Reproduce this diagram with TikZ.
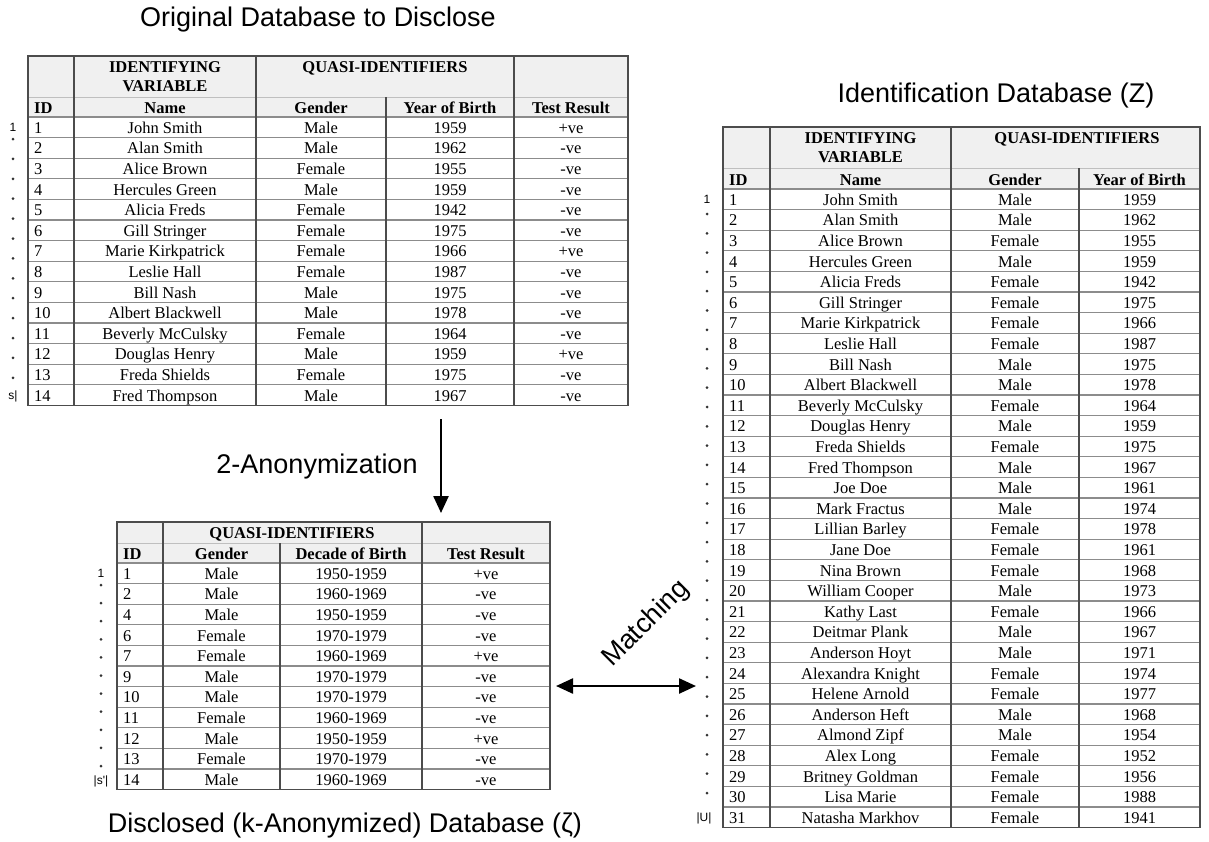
\documentclass[tikz,border=0pt]{standalone}
\usepackage{fontspec}
\setmainfont{Liberation Serif}
\newfontfamily\sansf{Liberation Sans}
\usetikzlibrary{arrows.meta}
\begin{document}
\begin{tikzpicture}[x=1pt,y=-1pt,
 txt/.style={inner sep=0pt, font=\fontsize{16.5}{16.5}\selectfont, anchor=base},
 hd/.style={inner sep=0pt, font=\fontsize{16.5}{16.5}\selectfont\bfseries, anchor=base},
 idt/.style={txt, anchor=base west},
 ttl/.style={inner sep=0pt, font=\sansf\fontsize{27}{27}\selectfont},
 rowline/.style={draw=black!45, line width=1.2pt},
 hline/.style={draw=black!25, line width=1pt},
 colline/.style={draw=black!70, line width=1.6pt},
 frame/.style={draw=black!70, line width=1.6pt},
 hdrfill/.style={fill=black!6},
 dotm/.style={fill=black!80},
 lbl/.style={inner sep=0pt, font=\sansf\fontsize{12}{12}\selectfont, anchor=base},
 arr/.style={line width=2.4pt, -{Triangle[length=17pt,width=15pt]}},
 darr/.style={line width=2.4pt, {Triangle[length=17pt,width=15pt]}-{Triangle[length=17pt,width=15pt]}},
]
\useasboundingbox (0,0) rectangle (1209,841);

% ---------------- Titles ----------------
\node[ttl] (title1) at (318,20) {Original Database to Disclose};
\node[ttl] (title2) at (996,96) {Identification Database (Z)};
\node[ttl] (title3) at (317,467) {2-Anonymization};
\node[ttl] (title4) at (345,826) {Disclosed (k-Anonymized) Database (ζ)};
\node[ttl, rotate=45] (title5) at (646,624) {Matching};

% ---------------- Table 1: Original ----------------
\fill[hdrfill] (28,56) rectangle (628,117);
\draw[hline] (28,97) -- (628,97);
\foreach \k in {0,...,13} \draw[rowline] (28,{117+20.6*\k}) -- (628,{117+20.6*\k});
\draw[colline] (74,56) -- (74,405.4);
\draw[colline] (256,56) -- (256,405.4);
\draw[colline] (386,97) -- (386,405.4);
\draw[colline] (514,56) -- (514,405.4);
\draw[frame] (28,56) rectangle (628,405.4);
\node[hd] (t1h1) at (165,72) {IDENTIFYING};
\node[hd] (t1h2) at (165,91) {VARIABLE};
\node[hd] (t1h3) at (385,72) {QUASI-IDENTIFIERS};
\node[hd, anchor=base west] (t1id) at (34,113) {ID};
\node[hd] (t1name) at (165,113) {Name};
\node[hd] (t1gen) at (321,113) {Gender};
\node[hd] (t1yob) at (450,113) {Year of Birth};
\node[hd] (t1tr) at (571,113) {Test Result};
\foreach \id/\nm/\g/\yr/\tr [count=\i from 0] in {
 1/John Smith/Male/1959/+ve,
 2/Alan Smith/Male/1962/-ve,
 3/Alice Brown/Female/1955/-ve,
 4/Hercules Green/Male/1959/-ve,
 5/Alicia Freds/Female/1942/-ve,
 6/Gill Stringer/Female/1975/-ve,
 7/Marie Kirkpatrick/Female/1966/+ve,
 8/Leslie Hall/Female/1987/-ve,
 9/Bill Nash/Male/1975/-ve,
 10/Albert Blackwell/Male/1978/-ve,
 11/Beverly McCulsky/Female/1964/-ve,
 12/Douglas Henry/Male/1959/+ve,
 13/Freda Shields/Female/1975/-ve,
 14/Fred Thompson/Male/1967/-ve}{
 \pgfmathsetmacro{\yb}{127.3+20.6*\i+6}
 \node[idt] (t1r\i id) at (34,\yb) {\id};
 \node[txt] (t1r\i n) at (165,\yb) {\nm};
 \node[txt] (t1r\i g) at (321,\yb) {\g};
 \node[txt] (t1r\i y) at (450,\yb) {\yr};
 \node[txt] (t1r\i t) at (571,\yb) {\tr};
}
\node[lbl] (t1first) at (13,131) {1};
\node[lbl] (t1last) at (13,399) {s|};
\foreach \k in {0,...,12} \fill[dotm] (13,{139+19.9*\k}) circle (1.5);

% ---------------- Table 2: Disclosed ----------------
\fill[hdrfill] (117,522) rectangle (550,563);
\draw[hline] (117,543) -- (550,543);
\foreach \k in {0,...,10} \draw[rowline] (117,{563+20.6*\k}) -- (550,{563+20.6*\k});
\draw[colline] (163,522) -- (163,789.6);
\draw[colline] (280,543) -- (280,789.6);
\draw[colline] (422,522) -- (422,789.6);
\draw[frame] (117,522) rectangle (550,789.6);
\node[hd] (t2h1) at (292,538) {QUASI-IDENTIFIERS};
\node[hd, anchor=base west] (t2id) at (123,559) {ID};
\node[hd] (t2gen) at (221.5,559) {Gender};
\node[hd] (t2dob) at (351,559) {Decade of Birth};
\node[hd] (t2tr) at (486,559) {Test Result};
\foreach \id/\g/\dc/\tr [count=\i from 0] in {
 1/Male/1950-1959/+ve,
 2/Male/1960-1969/-ve,
 4/Male/1950-1959/-ve,
 6/Female/1970-1979/-ve,
 7/Female/1960-1969/+ve,
 9/Male/1970-1979/-ve,
 10/Male/1970-1979/-ve,
 11/Female/1960-1969/-ve,
 12/Male/1950-1959/+ve,
 13/Female/1970-1979/-ve,
 14/Male/1960-1969/-ve}{
 \pgfmathsetmacro{\yb}{573.3+20.6*\i+6}
 \node[idt] (t2r\i id) at (123,\yb) {\id};
 \node[txt] (t2r\i g) at (221.5,\yb) {\g};
 \node[txt] (t2r\i d) at (351,\yb) {\dc};
 \node[txt] (t2r\i t) at (486,\yb) {\tr};
}
\node[lbl] (t2first) at (101,577) {1};
\node[lbl] (t2last) at (101,784) {|s'|};
\foreach \k in {0,...,10} \fill[dotm] (101,{585+18.1*\k}) circle (1.5);

% ---------------- Table 3: Identification ----------------
\fill[hdrfill] (723,127) rectangle (1200,189);
\draw[hline] (723,168) -- (1200,168);
\foreach \k in {0,...,30} \draw[rowline] (723,{189+20.6*\k}) -- (1200,{189+20.6*\k});
\draw[colline] (770,127) -- (770,827.6);
\draw[colline] (951,127) -- (951,827.6);
\draw[colline] (1079,168) -- (1079,827.6);
\draw[frame] (723,127) rectangle (1200,827.6);
\node[hd] (t3h1) at (860.5,143) {IDENTIFYING};
\node[hd] (t3h2) at (860.5,162) {VARIABLE};
\node[hd] (t3h3) at (1077,143) {QUASI-IDENTIFIERS};
\node[hd, anchor=base west] (t3id) at (729,185) {ID};
\node[hd] (t3name) at (860.5,185) {Name};
\node[hd] (t3gen) at (1015,185) {Gender};
\node[hd] (t3yob) at (1139.5,185) {Year of Birth};
\foreach \id/\nm/\g/\yr [count=\i from 0] in {
 1/John Smith/Male/1959,
 2/Alan Smith/Male/1962,
 3/Alice Brown/Female/1955,
 4/Hercules Green/Male/1959,
 5/Alicia Freds/Female/1942,
 6/Gill Stringer/Female/1975,
 7/Marie Kirkpatrick/Female/1966,
 8/Leslie Hall/Female/1987,
 9/Bill Nash/Male/1975,
 10/Albert Blackwell/Male/1978,
 11/Beverly McCulsky/Female/1964,
 12/Douglas Henry/Male/1959,
 13/Freda Shields/Female/1975,
 14/Fred Thompson/Male/1967,
 15/Joe Doe/Male/1961,
 16/Mark Fractus/Male/1974,
 17/Lillian Barley/Female/1978,
 18/Jane Doe/Female/1961,
 19/Nina Brown/Female/1968,
 20/William Cooper/Male/1973,
 21/Kathy Last/Female/1966,
 22/Deitmar Plank/Male/1967,
 23/Anderson Hoyt/Male/1971,
 24/Alexandra Knight/Female/1974,
 25/Helene Arnold/Female/1977,
 26/Anderson Heft/Male/1968,
 27/Almond Zipf/Male/1954,
 28/Alex Long/Female/1952,
 29/Britney Goldman/Female/1956,
 30/Lisa Marie/Female/1988,
 31/Natasha Markhov/Female/1941}{
 \pgfmathsetmacro{\yb}{199.3+20.6*\i+6}
 \node[idt] (t3r\i id) at (729,\yb) {\id};
 \node[txt] (t3r\i n) at (860.5,\yb) {\nm};
 \node[txt] (t3r\i g) at (1015,\yb) {\g};
 \node[txt] (t3r\i y) at (1139.5,\yb) {\yr};
}
\node[lbl] (t3first) at (707,203) {1};
\node[lbl] (t3last) at (704,821) {|U|};
\foreach \k in {0,...,30} \fill[dotm] (707,{214+19.3*\k}) circle (1.5);

% ---------------- Arrows ----------------
\coordinate (a1s) at (441,419);
\coordinate (a1e) at (441,513);
\draw[arr] (a1s) -- (a1e);
\coordinate (a2s) at (556,686);
\coordinate (a2e) at (696,686);
\draw[darr] (a2s) -- (a2e);
\end{tikzpicture}
\end{document}
